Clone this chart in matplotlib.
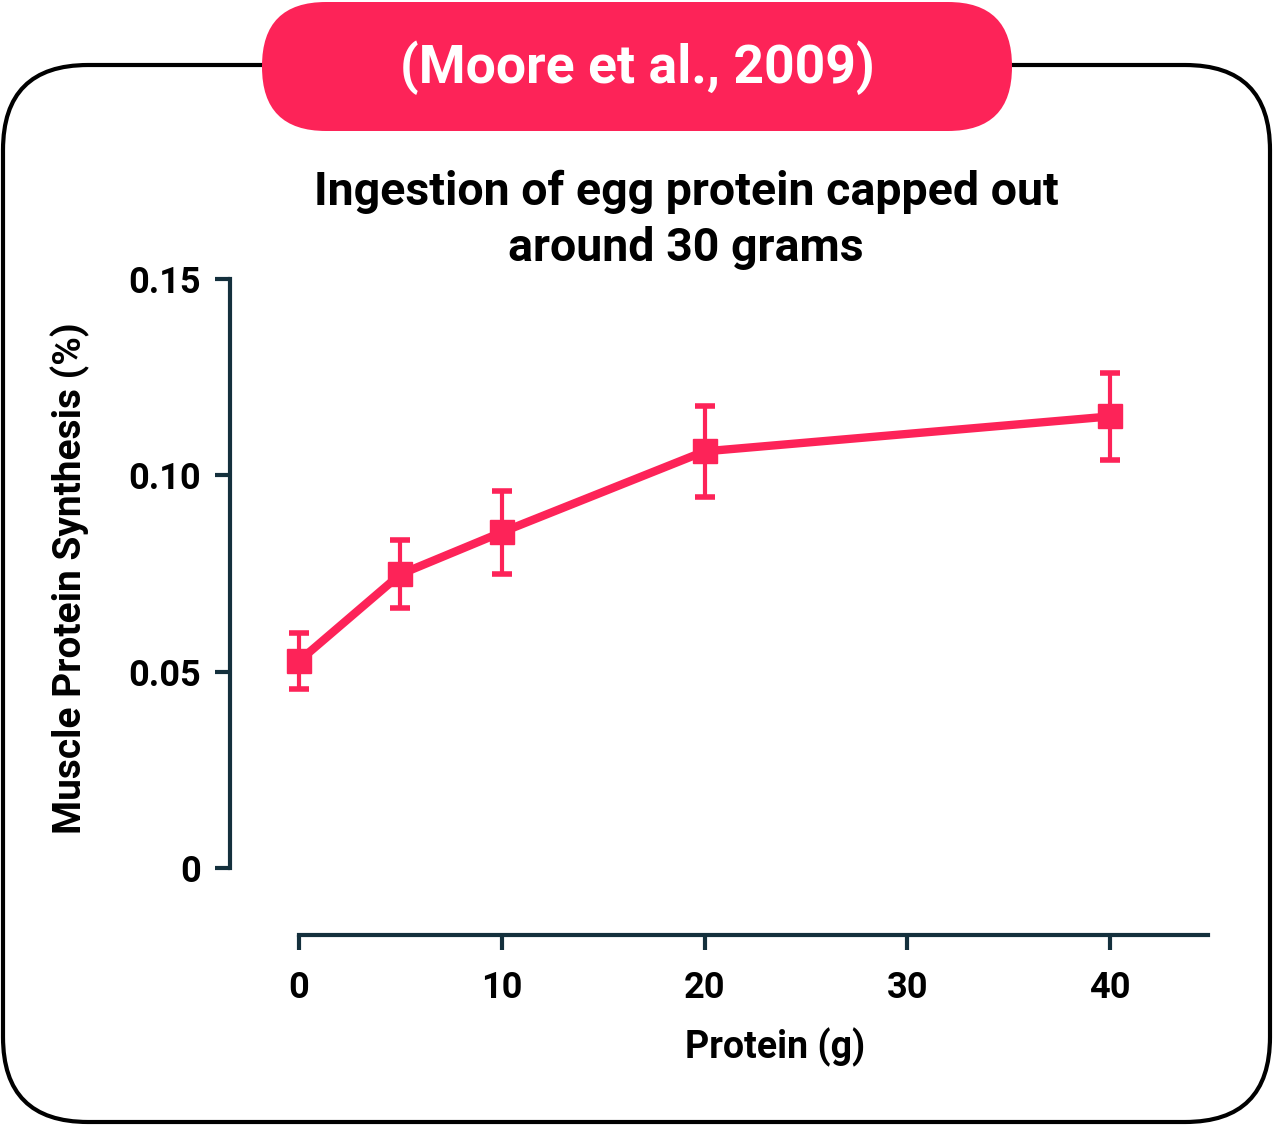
import numpy as np
import matplotlib
matplotlib.use('Agg')
import matplotlib.pyplot as plt
from matplotlib.patches import FancyBboxPatch

plt.rcParams['font.family'] = ['Roboto', 'DejaVu Sans']
plt.rcParams['font.weight'] = 'bold'

# data
protein_g = [0, 5, 10, 20, 40]
mps = [0.0527, 0.0748, 0.0855, 0.1061, 0.1150]
mps_err = [0.0071, 0.0087, 0.0105, 0.0115, 0.0111]
x_ticks = [0, 10, 20, 30, 40]
y_ticks = [0, 0.05, 0.10, 0.15]
y_ticklabels = ['0', '0.05', '0.10', '0.15']

pink = '#fd2358'
navy = '#14303d'

W, H = 1274, 1125
fig = plt.figure(figsize=(W / 100, H / 100), dpi=100)

# background layer in pixel coords (frame + badge + texts)
bg = fig.add_axes([0, 0, 1, 1])
bg.set_xlim(0, W)
bg.set_ylim(H, 0)
bg.axis('off')
frame = FancyBboxPatch((3, 65), 1267, 1057, boxstyle='round,pad=0,rounding_size=85',
                       fc='white', ec='black', lw=3)
bg.add_patch(frame)
badge = FancyBboxPatch((262, 2), 750, 129, boxstyle='round,pad=0,rounding_size=64',
                       fc=pink, ec='none')
bg.add_patch(badge)
bg.text(637, 68, '(Moore et al., 2009)', color='white', fontsize=38.5, fontweight='bold',
        ha='center', va='center')
bg.text(686, 192, 'Ingestion of egg protein capped out', color='black',
        fontsize=33.5, fontweight='bold', ha='center', va='center')
bg.text(686, 248, 'around 30 grams', color='black',
        fontsize=33.5, fontweight='bold', ha='center', va='center')
bg.text(775, 1047, 'Protein (g)', color='black', fontsize=27, fontweight='bold',
        ha='center', va='center')
bg.text(70, 578, 'Muscle Protein Synthesis (%)', color='black', fontsize=28,
        fontweight='bold', ha='center', va='center', rotation=90)

# main chart
ax = fig.add_axes([230 / W, 1 - 935 / H, (1208 - 230) / W, (935 - 279) / H])
ax.patch.set_alpha(0)
ax.errorbar(protein_g, mps, yerr=mps_err, color=pink, lw=6, marker='s', ms=17,
            elinewidth=3, capsize=7.5, capthick=4)
ax.set_xlim(-3.40, 44.83)
ax.set_ylim(-0.01706, 0.15)

for s in ['top', 'right']:
    ax.spines[s].set_visible(False)
ax.spines['left'].set_bounds(0, 0.15)
ax.spines['bottom'].set_bounds(0, 44.83)
for s in ['left', 'bottom']:
    ax.spines[s].set_color(navy)
    ax.spines[s].set_linewidth(3)

ax.set_xticks(x_ticks)
ax.set_yticks(y_ticks)
ax.set_yticklabels(y_ticklabels)
ax.tick_params(axis='both', direction='out', length=11, width=3, color=navy,
               labelsize=26, pad=10)
ax.tick_params(axis='x', pad=14)
for lbl in ax.get_xticklabels() + ax.get_yticklabels():
    lbl.set_fontweight('bold')

fig.savefig('out.png', dpi=100)
